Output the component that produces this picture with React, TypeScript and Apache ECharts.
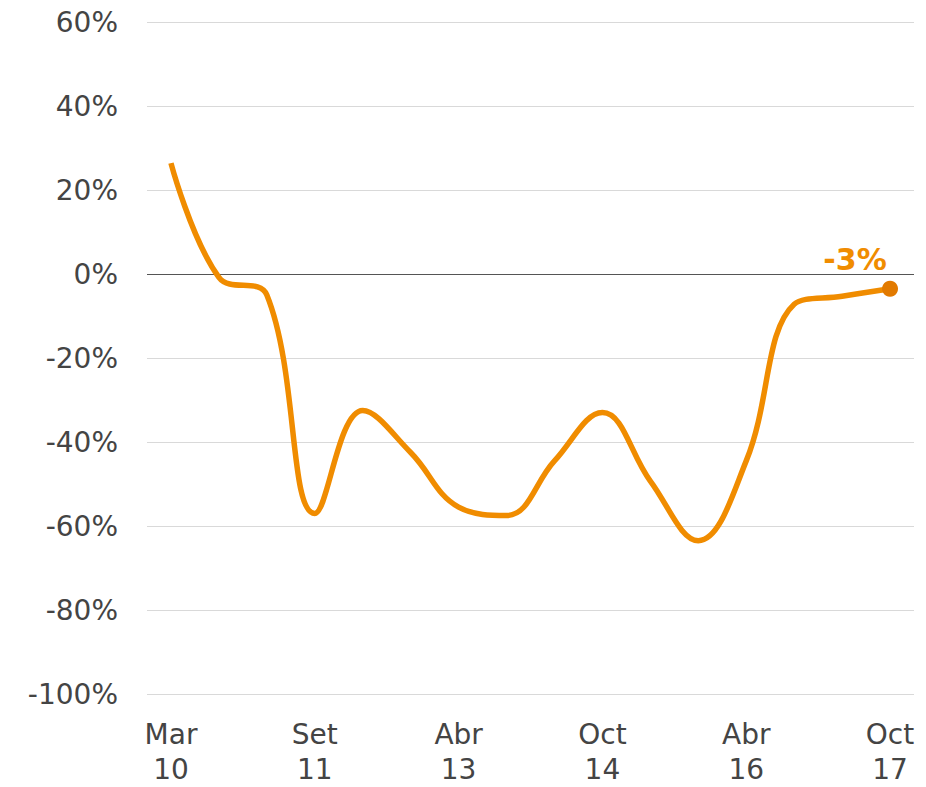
import React, { useEffect, useRef } from "react";
import * as echarts from "echarts";

const categories = [
  "Mar\n10", "Set\n10", "Mar\n11", "Set\n11", "Mar\n12", "Set\n12", "Abr\n13", "Oct\n13",
  "Abr\n14", "Oct\n14", "Abr\n15", "Oct\n15", "Abr\n16", "Oct\n16", "Abr\n17", "Oct\n17",
];
const values = [26.4, -0.8, -5, -57, -32.5, -42.5, -55.5, -57.5, -44.5, -33, -49.3, -63.5, -44.5, -7.2, -5.3, -3.5];
const lastLabel = "-3%";
const yMin = -100;
const yMax = 60;
const yStep = 20;

export default function App() {
  const ref = useRef<HTMLDivElement>(null);
  useEffect(() => {
    document.body.style.margin = "0";
    const chart = echarts.init(ref.current!, undefined, { renderer: "svg" });
    const font = "'DejaVu Sans', Verdana, sans-serif";
    const data = values.map((v, i) =>
      i === values.length - 1
        ? {
            value: v,
            symbol: "circle",
            symbolSize: 16,
            itemStyle: { color: "#E27A00" },
            label: {
              show: true,
              formatter: lastLabel,
              position: "top",
              offset: [-35, -1],
              color: "#F08C00",
              fontWeight: "bold",
              fontSize: 30,
              fontFamily: font,
            },
          }
        : { value: v }
    );
    chart.setOption({
      animation: false,
      grid: { left: 147, right: 12, top: 22, bottom: 92, containLabel: false },
      xAxis: {
        type: "category",
        data: categories,
        boundaryGap: true,
        axisLine: { show: false },
        axisTick: { show: false },
        axisLabel: {
          interval: 2,
          color: "#444",
          fontSize: 28,
          fontFamily: font,
          lineHeight: 35,
          margin: 23,
        },
        splitLine: { show: false },
      },
      yAxis: {
        type: "value",
        min: yMin,
        max: yMax,
        interval: yStep,
        axisLine: { show: false },
        axisTick: { show: false },
        axisLabel: {
          formatter: (v: number) => `${v}%`,
          color: "#444",
          fontSize: 28,
          fontFamily: font,
          margin: 29,
        },
        splitLine: { lineStyle: { color: "#D9D9D9", width: 1 } },
      },
      series: [
        {
          type: "line",
          data,
          smooth: 0.4,
          showSymbol: true,
          symbol: "none",
          lineStyle: { color: "#F08C00", width: 5.5 },
          itemStyle: { color: "#F08C00" },
          z: 3,
          markLine: {
            silent: true,
            symbol: "none",
            label: { show: false },
            lineStyle: { color: "#555", width: 1.2, type: "solid" },
            data: [{ yAxis: 0 }],
            z: 2,
          },
        },
      ],
    });
    return () => chart.dispose();
  }, []);
  return <div ref={ref} style={{ width: 926, height: 787 }} />;
}
